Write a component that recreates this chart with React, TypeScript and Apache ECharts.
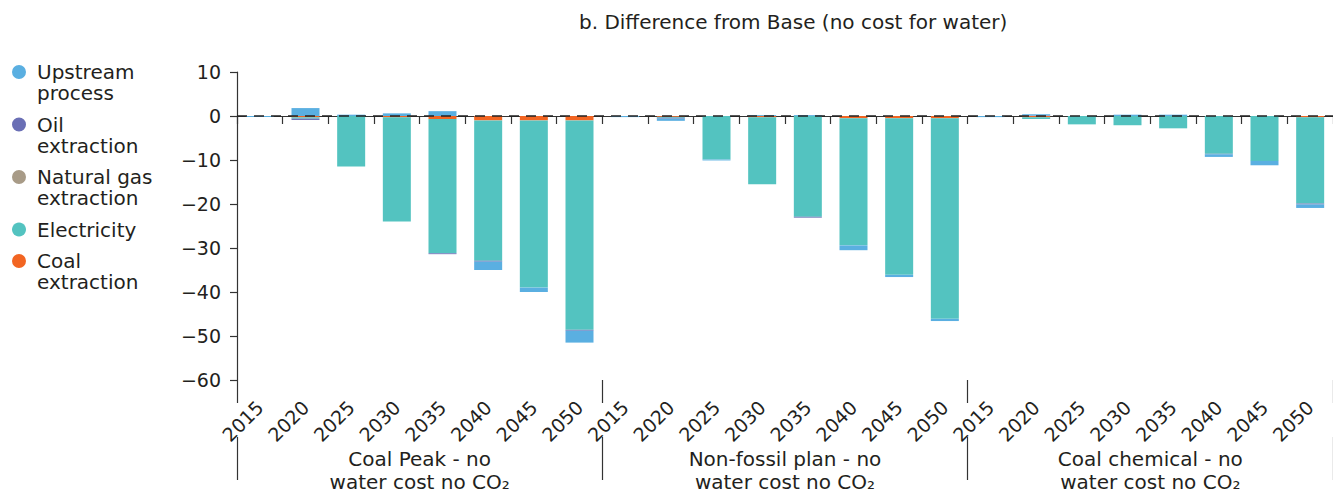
import React, { useEffect, useRef } from 'react';
import * as echarts from 'echarts';

const years = ['2015', '2020', '2025', '2030', '2035', '2040', '2045', '2050'];
const groups = [
  'Coal Peak - no\nwater cost no CO₂',
  'Non-fossil plan - no\nwater cost no CO₂',
  'Coal chemical - no\nwater cost no CO₂',
];
const yTicks = { min: -60, max: 10, interval: 10 };

// values per category: 3 scenarios x 8 years
const upstream = [
  -0.25, 1.8, 0.3, 0.6, 1.1, -1.9, -1.0, -2.7,
  -0.25, -0.5, -0.2, 0.2, 0.2, -1.1, -0.5, -0.5,
  -0.25, 0.3, 0, 0.3, 0.3, -0.6, -1.0, -0.8,
];
const oil = [
  0, -0.3, 0, 0, -0.2, -0.2, 0, -0.2,
  0, -0.2, 0, 0, -0.2, 0, 0, 0,
  0, 0.1, 0, 0, 0, -0.1, 0, -0.2,
];
const naturalGas = [
  0, 0, 0, 0, 0, 0, 0, 0,
  0, 0, 0, 0, 0, 0, 0, 0,
  0, 0, 0, 0, 0, 0, 0, 0,
];
const electricity = [
  0, -0.3, -11.5, -23.7, -30.5, -31.9, -38.0, -47.6,
  0, -0.2, -9.9, -15.2, -22.9, -28.9, -35.6, -45.6,
  0, -0.4, -1.9, -2.1, -2.8, -8.6, -10.2, -19.6,
];
const coal = [
  0, -0.3, 0, -0.3, -0.7, -1.0, -1.0, -1.0,
  0, -0.2, 0, -0.3, 0, -0.5, -0.5, -0.5,
  0, -0.3, 0, 0, 0, 0, 0, -0.3,
];

const legendNames = [
  'Upstream\nprocess',
  'Oil\nextraction',
  'Natural gas\nextraction',
  'Electricity',
  'Coal\nextraction',
];
const colors = {
  upstream: '#5aafe1',
  oil: '#6a6fb5',
  gas: '#a89b87',
  electricity: '#53c3c0',
  coal: '#f26522',
};

const FONT = 'DejaVu Sans';
const TXT = '#231f20';
// circle at the top of a 14x35 box, so it sits level with the first text line
const TOP_CIRCLE = 'path://M7,0A7,7,0,1,1,7,14A7,7,0,1,1,7,0ZM7,35L7,35Z';

export default function App() {
  const ref = useRef<HTMLDivElement>(null);
  useEffect(() => {
    if (!ref.current) return;
    const chart = echarts.init(ref.current, null, { renderer: 'svg' });
    const categories: string[] = [];
    groups.forEach((_, gi) => years.forEach((y) => categories.push(y + '|' + gi)));

    const barBase = {
      type: 'bar',
      stack: 'total',
      barWidth: 28,
      xAxisIndex: 0,
      yAxisIndex: 0,
    };

    chart.setOption({
      animation: false,
      textStyle: { fontFamily: FONT, color: TXT },
      title: {
        text: 'b. Difference from Base (no cost for water)',
        left: 579,
        top: 12,
        padding: 0,
        textStyle: { fontFamily: FONT, fontSize: 20, fontWeight: 'normal', color: TXT },
      },
      legend: {
        orient: 'vertical',
        left: 12,
        top: 61.5,
        padding: 0,
        itemGap: 10.5,
        itemWidth: 14,
        itemHeight: 35,
        selectedMode: false,
        data: legendNames.map((n) => ({
          name: n,
          icon: n.indexOf('\n') >= 0 ? TOP_CIRCLE : 'circle',
        })),
        textStyle: {
          fontFamily: FONT,
          fontSize: 20,
          lineHeight: 21,
          color: TXT,
          padding: [0, 0, 0, 6],
        },
      },
      grid: { left: 237, right: 0, top: 72, bottom: 113, containLabel: false },
      xAxis: [
        {
          type: 'category',
          data: categories,
          position: 'bottom',
          axisLine: { show: true, lineStyle: { color: '#333', width: 1.2 } },
          axisTick: { show: true, length: 8, interval: 0, lineStyle: { color: '#333', width: 1.2 } },
          axisLabel: {
            interval: 0,
            rotate: 45,
            margin: 24,
            fontFamily: FONT,
            fontSize: 19,
            color: TXT,
            formatter: (v: string) => v.split('|')[0],
          },
        },
        {
          type: 'category',
          data: groups,
          position: 'bottom',
          offset: 57,
          axisLine: { show: false },
          axisTick: { show: true, length: 43, interval: 0, lineStyle: { color: '#333', width: 1.2 } },
          axisLabel: {
            interval: 0,
            margin: 10,
            fontFamily: FONT,
            fontSize: 20,
            lineHeight: 23,
            color: TXT,
          },
        },
        {
          type: 'category',
          data: groups,
          position: 'bottom',
          offset: 0,
          axisLine: { show: false },
          axisTick: { show: true, length: 23, interval: 0, lineStyle: { color: '#333', width: 1.2 } },
          axisLabel: { show: false },
        },
      ],
      yAxis: {
        type: 'value',
        min: yTicks.min,
        max: yTicks.max,
        interval: yTicks.interval,
        axisLine: { show: true, lineStyle: { color: '#333', width: 1.2 } },
        axisTick: { show: true, length: 7, lineStyle: { color: '#333', width: 1.2 } },
        splitLine: { show: false },
        axisLabel: {
          margin: 16,
          fontFamily: FONT,
          fontSize: 19,
          color: TXT,
          formatter: (v: number) => String(v).replace('-', '−'),
        },
      },
      series: [
        {
          ...barBase,
          name: legendNames[4],
          data: coal,
          itemStyle: { color: colors.coal },
          markLine: {
            silent: true,
            symbol: ['none', 'none'],
            label: { show: false },
            lineStyle: { type: [10, 7], color: '#222', width: 1.6 },
            data: [{ yAxis: 0 }],
          },
        },
        { ...barBase, name: legendNames[3], data: electricity, itemStyle: { color: colors.electricity } },
        { ...barBase, name: legendNames[2], data: naturalGas, itemStyle: { color: colors.gas } },
        { ...barBase, name: legendNames[1], data: oil, itemStyle: { color: colors.oil } },
        { ...barBase, name: legendNames[0], data: upstream, itemStyle: { color: colors.upstream } },
      ],
    });
    return () => chart.dispose();
  }, []);
  return (
    <div
      ref={ref}
      style={{ position: 'absolute', left: 0, top: 0, width: 1333, height: 493, background: '#fff' }}
    />
  );
}
